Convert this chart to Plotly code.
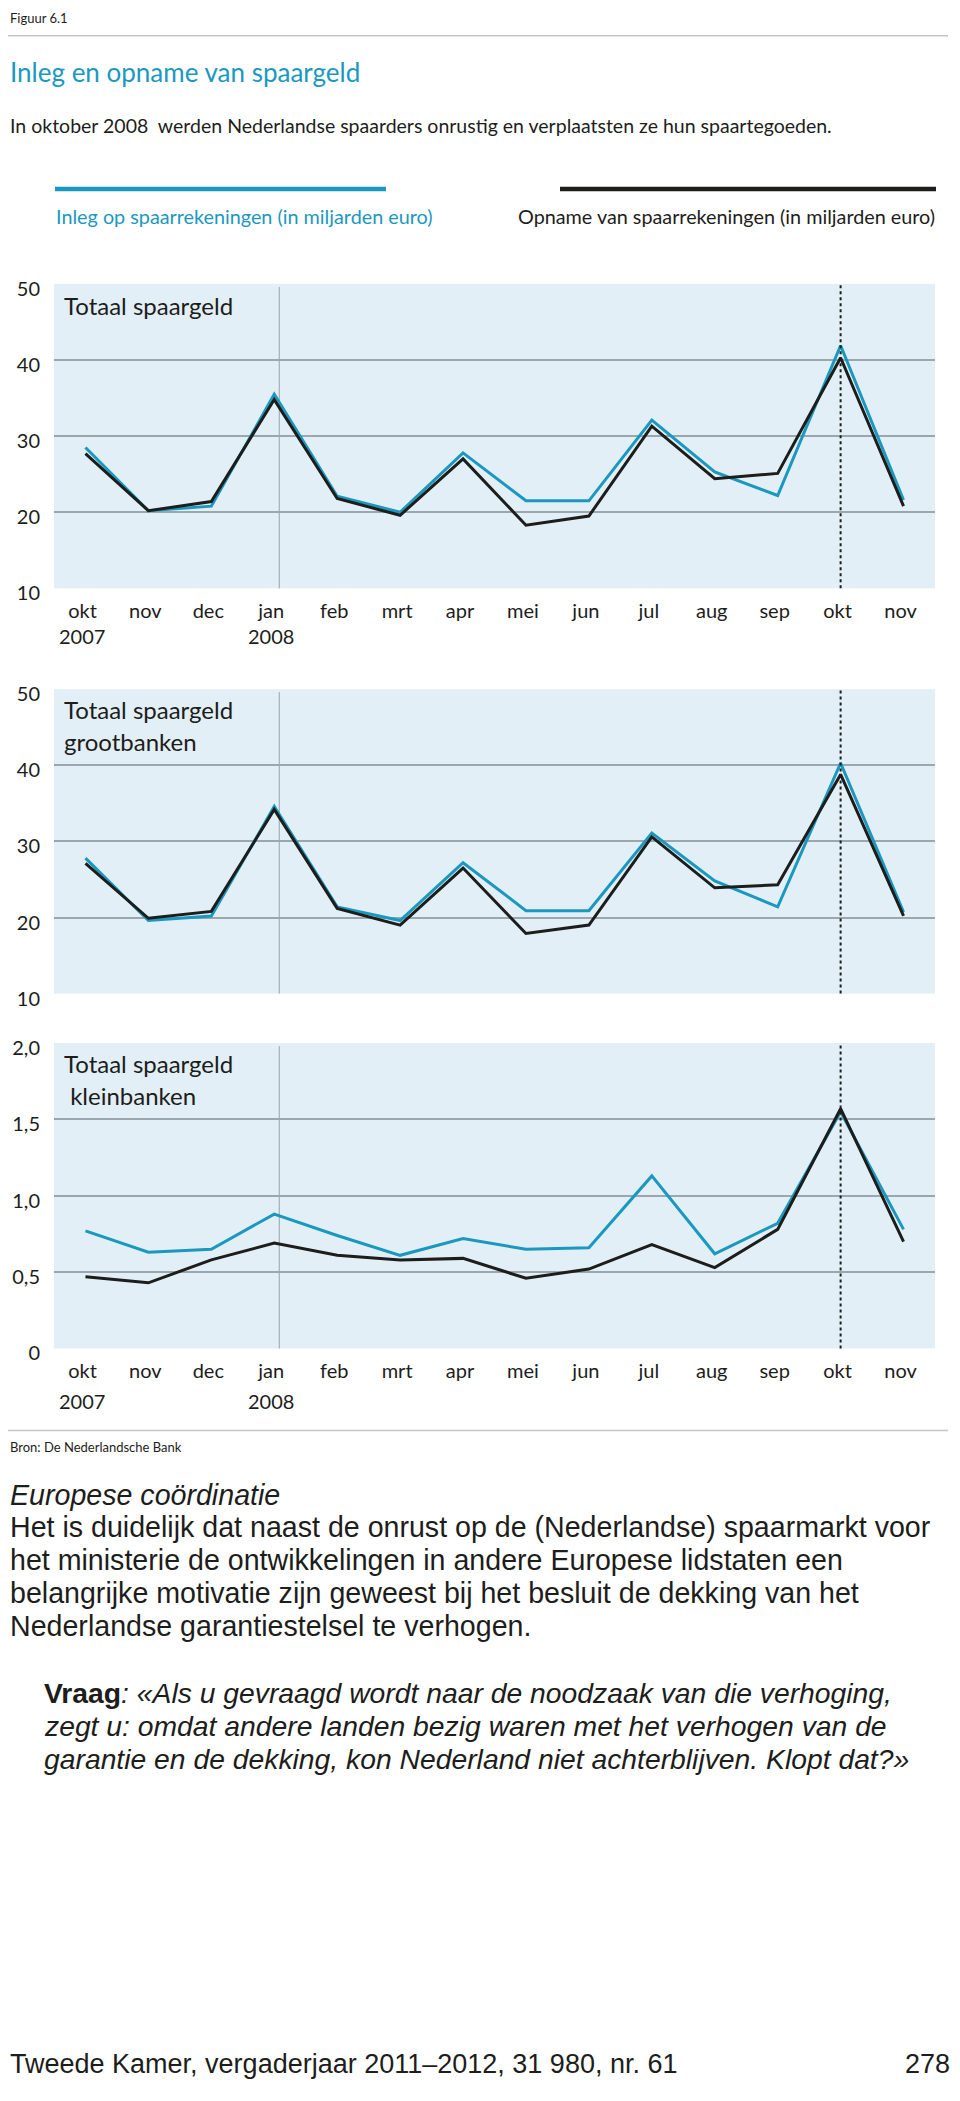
import plotly.graph_objects as go

# ---------------- data ----------------
months = ["okt", "nov", "dec", "jan", "feb", "mrt", "apr", "mei", "jun", "jul", "aug", "sep", "okt", "nov"]
years = {0: "2007", 3: "2008"}

inleg_totaal = [28.5, 20.2, 20.8, 35.5, 22.1, 20.0, 27.8, 21.5, 21.5, 32.1, 25.3, 22.2, 41.9, 21.6]
opname_totaal = [27.7, 20.2, 21.4, 34.8, 21.8, 19.6, 27.0, 18.3, 19.5, 31.3, 24.4, 25.1, 40.3, 20.8]

inleg_groot = [27.8, 19.6, 20.2, 34.6, 21.4, 19.6, 27.2, 20.9, 20.9, 31.1, 24.8, 21.4, 40.3, 20.7]
opname_groot = [27.1, 19.9, 20.8, 34.2, 21.2, 19.0, 26.5, 17.9, 19.0, 30.6, 23.9, 24.3, 38.8, 20.2]

inleg_klein = [0.77, 0.63, 0.65, 0.88, 0.74, 0.61, 0.72, 0.65, 0.66, 1.13, 0.62, 0.82, 1.55, 0.78]
opname_klein = [0.47, 0.43, 0.58, 0.69, 0.61, 0.58, 0.59, 0.46, 0.52, 0.68, 0.53, 0.78, 1.57, 0.70]

ticks_big = [10, 20, 30, 40, 50]
ticks_small = [0, 0.5, 1.0, 1.5, 2.0]
ticks_small_text = ["0", "0,5", "1,0", "1,5", "2,0"]

# ---------------- styling ----------------
OFF = 8                      # default page margin of the html body
W, H = 960 - 2 * OFF, 2101 - 2 * OFF
CYAN = "#1b98bf"
BLACK = "#1d1d1b"
BG = "#e2eff6"
GRID = "#9aa7ae"
CFONT = "Lato"
BFONT = "Liberation Sans"

def X(px):
    return (px - OFF) / W

def Y(py):
    return 1 - (py - OFF) / H

x_dom = [X(54), X(935)]
panels = [
    dict(top=279, bot=587, rng=[10, 50], tv=ticks_big, tt=[str(v) for v in ticks_big],
         minor=[20, 30, 40], inleg=inleg_totaal, opname=opname_totaal, xlabels=True,
         label=["Totaal spaargeld"], label_y=[301], year_y=635),
    dict(top=689, bot=997, rng=[10, 50], tv=ticks_big, tt=[str(v) for v in ticks_big],
         minor=[20, 30, 40], inleg=inleg_groot, opname=opname_groot, xlabels=False,
         label=["Totaal spaargeld", "grootbanken"], label_y=[710, 742]),
    dict(top=1047, bot=1356, rng=[0, 2.0], tv=ticks_small, tt=ticks_small_text,
         minor=[0.5, 1.0, 1.5], inleg=inleg_klein, opname=opname_klein, xlabels=True,
         label=["Totaal spaargeld", " kleinbanken"], label_y=[1068, 1100], year_y=1409),
]

fig = go.Figure()
layout = dict(
    width=W, height=H, margin=dict(l=0, r=0, t=0, b=0),
    paper_bgcolor="white", plot_bgcolor=BG, showlegend=False,
    font=dict(family=CFONT, size=20, color=BLACK),
)
shapes = []
annotations = []
xidx = list(range(len(months)))

for i, p in enumerate(panels, start=1):
    xa = "xaxis" if i == 1 else f"xaxis{i}"
    ya = "yaxis" if i == 1 else f"yaxis{i}"
    xr = "x" if i == 1 else f"x{i}"
    yr = "y" if i == 1 else f"y{i}"
    layout[xa] = dict(
        domain=x_dom, anchor=yr, range=[-0.5, 13.5], showgrid=False, zeroline=False,
        showline=False, tickmode="array", tickvals=xidx, ticktext=months,
        showticklabels=p["xlabels"], ticks="", ticklabelstandoff=9, ticklabelshift=-3,
        tickfont=dict(family=CFONT, size=20, color=BLACK), fixedrange=True,
    )
    layout[ya] = dict(
        domain=[Y(p["bot"]), Y(p["top"])], anchor=xr, range=p["rng"], showgrid=False,
        zeroline=False, showline=False, tickmode="array", tickvals=p["tv"], ticktext=p["tt"],
        ticks="", ticklabelstandoff=13, ticklabelshift=5,
        tickfont=dict(family=CFONT, size=20, color=BLACK),
        minor=dict(tickvals=p["minor"], showgrid=True, gridcolor=GRID, gridwidth=1.5, ticks=""),
        fixedrange=True,
    )
    fig.add_trace(go.Scatter(x=xidx, y=p["inleg"], mode="lines", xaxis=xr, yaxis=yr,
                             line=dict(color=CYAN, width=3), hoverinfo="skip"))
    fig.add_trace(go.Scatter(x=xidx, y=p["opname"], mode="lines", xaxis=xr, yaxis=yr,
                             line=dict(color=BLACK, width=3), hoverinfo="skip"))
    # thin separator at the year change (jan 2008)
    shapes.append(dict(type="line", xref=xr, yref=f"{yr} domain", x0=3.08, x1=3.08,
                       y0=0, y1=0.99, line=dict(color="#9aa3a8", width=1), layer="below"))
    # dotted marker at okt 2008
    shapes.append(dict(type="line", xref=xr, yref=f"{yr} domain", x0=12, x1=12,
                       y0=0, y1=1, line=dict(color=BLACK, width=2, dash="dot")))
    for txt_, ly in zip(p["label"], p["label_y"]):
        annotations.append(dict(text=txt_, xref="paper", yref="paper", x=X(62), y=Y(ly),
                                xanchor="left", yanchor="middle", showarrow=False,
                                font=dict(family=CFONT, size=24, color=BLACK)))
    if p["xlabels"]:
        for xi, yt in years.items():
            annotations.append(dict(text=yt, xref=xr, yref="paper", x=xi, y=Y(p["year_y"]),
                                    xanchor="center", yanchor="middle", showarrow=False,
                                    xshift=-3, font=dict(family=CFONT, size=20, color=BLACK)))

# header rules
shapes.append(dict(type="line", xref="paper", yref="paper", x0=X(8), x1=X(948), y0=Y(28), y1=Y(28),
                   line=dict(color="#c6c6c6", width=1.5)))
shapes.append(dict(type="line", xref="paper", yref="paper", x0=X(8), x1=X(948), y0=Y(1439), y1=Y(1439),
                   line=dict(color="#c6c6c6", width=1.5)))
# legend swatches
shapes.append(dict(type="line", xref="paper", yref="paper", x0=X(55), x1=X(386), y0=Y(183), y1=Y(183),
                   line=dict(color=CYAN, width=4.5)))
shapes.append(dict(type="line", xref="paper", yref="paper", x0=X(560), x1=X(936), y0=Y(183), y1=Y(183),
                   line=dict(color=BLACK, width=4.5)))

def txt(text, x, y, size, color=BLACK, family=CFONT, anchor="left"):
    annotations.append(dict(text=text, xref="paper", yref="paper", x=X(x), y=Y(y),
                            xanchor=anchor, yanchor="middle", showarrow=False,
                            font=dict(family=family, size=size, color=color)))

txt("Figuur 6.1", 8, 10, 13)
txt("Inleg en opname van spaargeld", 8, 65, 26, CYAN)
txt("In oktober 2008  werden Nederlandse spaarders onrustig en verplaatsten ze hun spaartegoeden.", 8, 119, 19.5)
txt("Inleg op spaarrekeningen (in miljarden euro)", 54, 210, 19.8, CYAN)
txt("Opname van spaarrekeningen (in miljarden euro)", 937, 210, 19.8, BLACK, anchor="right")
txt("Bron: De Nederlandsche Bank", 8, 1456, 13)

txt("<i>Europese coördinatie</i>", 8, 1504, 28.6, family=BFONT)
body = [
    "Het is duidelijk dat naast de onrust op de (Nederlandse) spaarmarkt voor",
    "het ministerie de ontwikkelingen in andere Europese lidstaten een",
    "belangrijke motivatie zijn geweest bij het besluit de dekking van het",
    "Nederlandse garantiestelsel te verhogen.",
]
for k, line in enumerate(body):
    txt(line, 8, 1537 + k * 33.3, 28.6, family=BFONT)

vraag = [
    "<b>Vraag</b><i>: «Als u gevraagd wordt naar de noodzaak van die verhoging,</i>",
    "<i>zegt u: omdat andere landen bezig waren met het verhogen van de</i>",
    "<i>garantie en de dekking, kon Nederland niet achterblijven. Klopt dat?»</i>",
]
for k, line in enumerate(vraag):
    txt(line, 42, 1705 + k * 33, 28.3, family=BFONT)

txt("Tweede Kamer, vergaderjaar 2011–2012, 31 980, nr. 61", 8, 2080, 27, family=BFONT)
txt("278", 952, 2080, 27, family=BFONT, anchor="right")

layout["shapes"] = shapes
layout["annotations"] = annotations
fig.update_layout(**layout)
fig.write_html("out.html")
